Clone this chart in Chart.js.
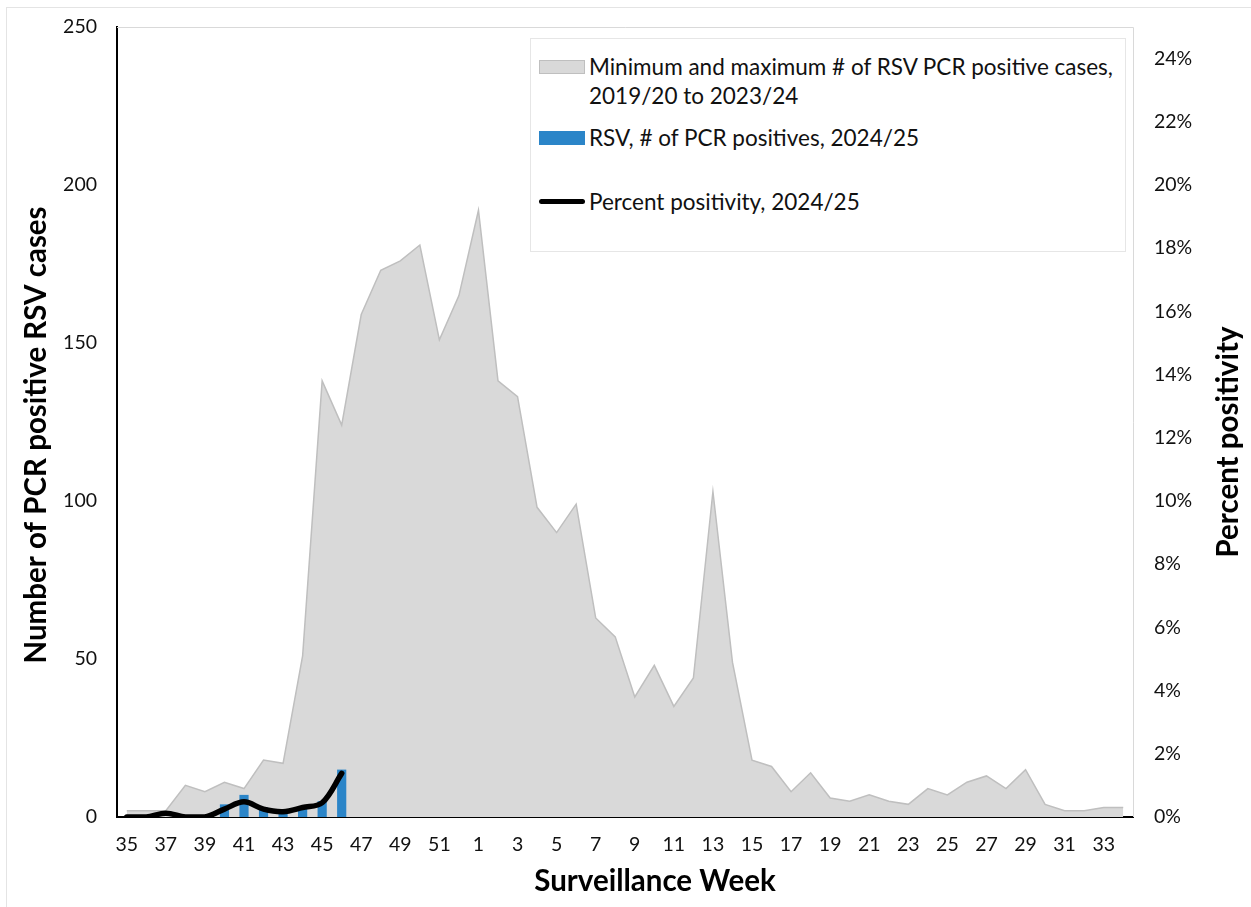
<!DOCTYPE html>
<html>
<head>
<meta charset="utf-8">
<script src="https://cdn.jsdelivr.net/npm/chart.js@4.4.1/dist/chart.umd.min.js"></script>
<style>
    body { margin: 0; background: #fff; }
    #wrap { position: relative; width: 1251px; height: 907px; }
    #frame { position: absolute; left: 6px; top: 7px; width: 1300px; height: 1000px;
             border-left: 1px solid #e4e4e4; border-top: 1px solid #e4e4e4; pointer-events: none; }
    #legend { position: absolute; left: 530px; top: 38px; width: 594px; height: 212px;
              border: 1px solid #e6e6e6; background: #fff;
              font-family: Lato, sans-serif; font-size: 22.5px; color: #111; }
    .item { position: absolute; left: 8px; display: flex; align-items: flex-start; }
    .item span { line-height: 29px; margin-left: 4px; white-space: nowrap; }
    .sw { width: 46px; flex: none; }
</style>
</head>
<body>
<div id="wrap">
    <canvas id="rsv" width="1251" height="907"></canvas>
    <div id="frame"></div>
    <div id="legend"></div>
</div>
<script>
// ── Datos ─────────────────────────────────────────────────────────────

const weeks = [35, 36, 37, 38, 39, 40, 41, 42, 43, 44, 45, 46, 47, 48, 49, 50, 51, 52,
    1, 2, 3, 4, 5, 6, 7, 8, 9, 10, 11, 12, 13, 14, 15, 16, 17, 18, 19, 20, 21, 22, 23, 24,
    25, 26, 27, 28, 29, 30, 31, 32, 33, 34];

// max # of PCR positives, 2019/20 to 2023/24 (min is 0 every week)
const rangeMax = [2, 2, 2, 10, 8, 11, 9, 18, 17, 51, 138, 124, 159, 173, 176, 181, 151, 165,
    192, 138, 133, 98, 90, 99, 63, 57, 38, 48, 35, 44, 103, 49, 18, 16, 8, 14, 6, 5, 7, 5, 4, 9,
    7, 11, 13, 9, 15, 4, 2, 2, 3, 3];

// 2024/25 season so far (weeks 35–46)
const positives = [0, 0, 0, 0, 0, 4, 7, 3, 2, 3, 5, 15];
const positivity = [0, 0, 0.12, 0, 0, 0.25, 0.48, 0.25, 0.17, 0.3, 0.45, 1.38];

const leftTicks = [0, 50, 100, 150, 200, 250];
const rightTicks = [0, 2, 4, 6, 8, 10, 12, 14, 16, 18, 20, 22, 24];

const FONT = "Lato, 'Open Sans', sans-serif";
const GREY = "#d9d9d9";
const GREY_LINE = "#bfbfbf";
const BLUE = "#2b85c8";

// light frame on top/right edge of the plot + the three axis titles
const extras = {
    id: "extras",
    beforeDatasetsDraw(chart) {
        const { ctx, chartArea: a } = chart;
        ctx.save();
        ctx.strokeStyle = GREY;
        ctx.lineWidth = 1;
        ctx.beginPath();
        ctx.moveTo(a.left, a.top + 0.5);
        ctx.lineTo(a.right + 0.5, a.top + 0.5);
        ctx.lineTo(a.right + 0.5, a.bottom);
        ctx.stroke();
        ctx.restore();
    },
    afterDraw(chart) {
        const { ctx } = chart;
        const title = (text, x, y, rot) => {
            ctx.save();
            ctx.translate(x, y);
            ctx.rotate(rot);
            ctx.font = "bold 29.5px " + FONT;
            ctx.fillStyle = "#000";
            ctx.textAlign = "center";
            ctx.textBaseline = "middle";
            ctx.fillText(text, 0, 0);
            ctx.restore();
        };
        title("Number of PCR positive RSV cases", 36, 435, -Math.PI / 2);
        title("Surveillance Week", 655, 881, 0);
        title("Percent positivity", 1228, 442, -Math.PI / 2);
    },
};

const noEdgePadding = (w) => (s) => {
    s.width = w;
    s.paddingTop = 0;
    s.paddingBottom = 0;
};

const chart = new Chart(document.getElementById("rsv"), {
    type: "bar",
    data: {
        labels: weeks,
        datasets: [
            {
                type: "line",
                label: "Minimum and maximum # of RSV PCR positive cases, 2019/20 to 2023/24",
                data: rangeMax,
                yAxisID: "y",
                backgroundColor: GREY,
                borderColor: GREY_LINE,
                borderWidth: 1.5,
                pointRadius: 0,
                fill: "origin",
                tension: 0,
                order: 3,
            },
            {
                label: "RSV, # of PCR positives, 2024/25",
                data: positives,
                yAxisID: "y",
                backgroundColor: BLUE,
                barPercentage: 0.47,
                categoryPercentage: 1,
                order: 2,
            },
            {
                type: "line",
                label: "Percent positivity, 2024/25",
                data: positivity,
                yAxisID: "y2",
                borderColor: "#000",
                borderWidth: 5.5,
                borderCapStyle: "round",
                pointRadius: 0,
                fill: false,
                tension: 0.35,
                order: 1,
            },
        ],
    },
    options: {
        responsive: false,
        animation: false,
        layout: { padding: { left: 8, right: 8, top: 27, bottom: 6 } },
        plugins: {
            legend: { display: false },
            tooltip: { enabled: false },
        },
        scales: {
            x: {
                z: 1,
                grid: { display: false, drawTicks: false },
                border: { color: "#000", width: 2 },
                afterFit: (s) => { s.height = 84; },
                ticks: {
                    autoSkip: false,
                    maxRotation: 0,
                    padding: 16,
                    font: { family: FONT, size: 19.5 },
                    color: "#111",
                    callback: function (value, i) {
                        return i % 2 === 0 ? weeks[i] : "";
                    },
                },
            },
            y: {
                position: "left",
                min: 0,
                max: 250,
                afterFit: noEdgePadding(109),
                afterBuildTicks: (s) => { s.ticks = leftTicks.map((v) => ({ value: v })); },
                grid: { display: false, drawTicks: false },
                border: { color: "#000", width: 2 },
                ticks: {
                    padding: 20,
                    font: { family: FONT, size: 19.5 },
                    color: "#111",
                },
            },
            y2: {
                position: "right",
                min: 0,
                max: 25,
                afterFit: noEdgePadding(110),
                afterBuildTicks: (s) => { s.ticks = rightTicks.map((v) => ({ value: v })); },
                grid: { display: false, drawTicks: false },
                border: { display: false },
                ticks: {
                    padding: 21,
                    font: { family: FONT, size: 19.5 },
                    color: "#111",
                    callback: function (value) {
                        return value + "%";
                    },
                },
            },
        },
    },
    plugins: [extras],
});

// ── Leyenda HTML (texto con salto de línea como en el original) ──────────

const legendEl = document.getElementById("legend");
const swatches = [
    { top: 13, html: '<div class="sw" style="height:14px;margin-top:8px;background:' + GREY + ';border:1px solid ' + GREY_LINE + ';box-sizing:border-box"></div>',
      text: "Minimum and maximum # of RSV PCR positive cases,<br>2019/20 to 2023/24" },
    { top: 84, html: '<div class="sw" style="height:14px;margin-top:8px;background:' + BLUE + '"></div>',
      text: chart.data.datasets[1].label },
    { top: 148, html: '<div class="sw" style="height:5px;margin-top:12px;background:#000;border-radius:3px"></div>',
      text: chart.data.datasets[2].label },
];
swatches.forEach((s) => {
    const d = document.createElement("div");
    d.className = "item";
    d.style.top = s.top + "px";
    d.innerHTML = s.html + "<span>" + s.text + "</span>";
    legendEl.appendChild(d);
});
</script>
</body>
</html>
